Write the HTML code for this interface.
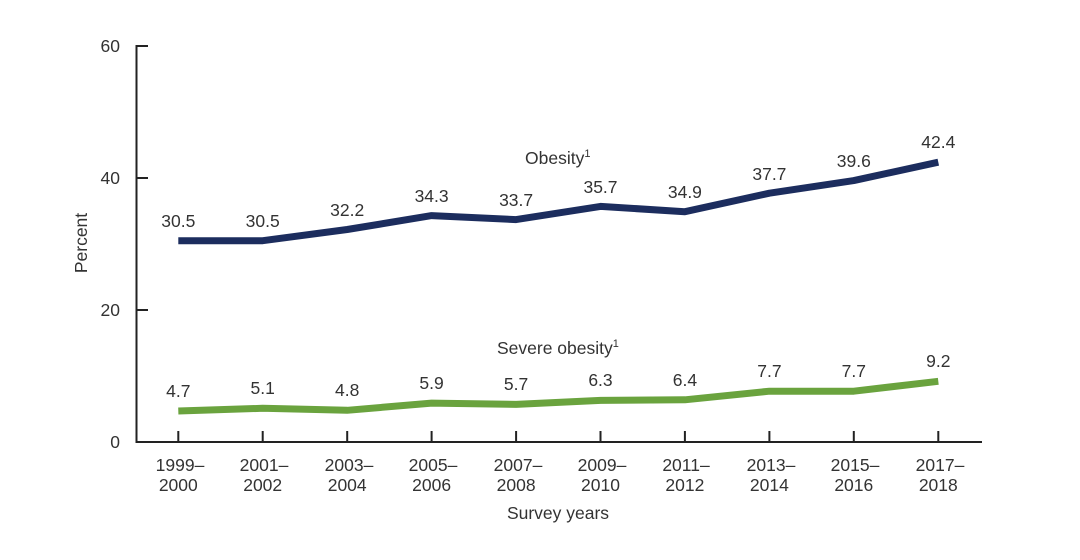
<!DOCTYPE html>
<html>
<head>
<meta charset="utf-8">
<style>
html,body{margin:0;padding:0;background:#fff;}
svg{display:block;}
text{font-family:"Liberation Sans",Arial,sans-serif;fill:#333;}
</style>
</head>
<body>
<svg width="1080" height="560" viewBox="0 0 1080 560" xmlns="http://www.w3.org/2000/svg">
<rect width="1080" height="560" fill="#fff"/>
<!-- axes -->
<line x1="136.5" y1="45" x2="136.5" y2="443" stroke="#222" stroke-width="2"/>
<line x1="135.5" y1="442" x2="982" y2="442" stroke="#222" stroke-width="2"/>
<!-- y ticks -->
<g stroke="#222" stroke-width="2">
<line x1="136" y1="46" x2="148" y2="46"/>
<line x1="136" y1="178" x2="148" y2="178"/>
<line x1="136" y1="310" x2="148" y2="310"/>
</g>
<g font-size="17.5" text-anchor="end">
<text x="120" y="52">60</text>
<text x="120" y="184">40</text>
<text x="120" y="316">20</text>
<text x="120" y="448">0</text>
</g>
<!-- x ticks -->
<g stroke="#222" stroke-width="2">
<line x1="178.3" y1="431" x2="178.3" y2="442"/>
<line x1="262.7" y1="431" x2="262.7" y2="442"/>
<line x1="347.2" y1="431" x2="347.2" y2="442"/>
<line x1="431.6" y1="431" x2="431.6" y2="442"/>
<line x1="516.1" y1="431" x2="516.1" y2="442"/>
<line x1="600.5" y1="431" x2="600.5" y2="442"/>
<line x1="684.9" y1="431" x2="684.9" y2="442"/>
<line x1="769.4" y1="431" x2="769.4" y2="442"/>
<line x1="853.8" y1="431" x2="853.8" y2="442"/>
<line x1="938.3" y1="431" x2="938.3" y2="442"/>
</g>
<g font-size="17.5" text-anchor="middle">
<text x="180" y="471">1999–</text><text x="178.3" y="491">2000</text>
<text x="264" y="471">2001–</text><text x="262.7" y="491">2002</text>
<text x="349" y="471">2003–</text><text x="347.2" y="491">2004</text>
<text x="433" y="471">2005–</text><text x="431.6" y="491">2006</text>
<text x="518" y="471">2007–</text><text x="516.1" y="491">2008</text>
<text x="602" y="471">2009–</text><text x="600.5" y="491">2010</text>
<text x="686" y="471">2011–</text><text x="684.9" y="491">2012</text>
<text x="771" y="471">2013–</text><text x="769.4" y="491">2014</text>
<text x="855" y="471">2015–</text><text x="853.8" y="491">2016</text>
<text x="940" y="471">2017–</text><text x="938.3" y="491">2018</text>
</g>
<text x="558" y="519" font-size="17.5" text-anchor="middle">Survey years</text>
<text x="0" y="0" font-size="17.5" text-anchor="middle" transform="translate(87,243) rotate(-90)">Percent</text>
<!-- obesity line -->
<polyline fill="none" stroke="#1c2d5e" stroke-width="7" stroke-linejoin="round"
points="178.3,240.7 262.7,240.7 347.2,229.5 431.6,215.6 516.1,219.6 600.5,206.4 684.9,211.7 769.4,193.2 853.8,180.6 938.3,162.2"/>
<!-- severe obesity line -->
<polyline fill="none" stroke="#6aa33e" stroke-width="7" stroke-linejoin="round"
points="178.3,411.0 262.7,408.3 347.2,410.3 431.6,403.1 516.1,404.4 600.5,400.4 684.9,399.8 769.4,391.2 853.8,391.2 938.3,381.3"/>
<!-- value labels obesity -->
<g font-size="17.5" text-anchor="middle">
<text x="178.3" y="227">30.5</text>
<text x="262.7" y="227">30.5</text>
<text x="347.2" y="216">32.2</text>
<text x="431.6" y="202">34.3</text>
<text x="516.1" y="206">33.7</text>
<text x="600.5" y="193">35.7</text>
<text x="684.9" y="198">34.9</text>
<text x="769.4" y="180">37.7</text>
<text x="853.8" y="167">39.6</text>
<text x="938.3" y="148">42.4</text>
</g>
<!-- value labels severe -->
<g font-size="17.5" text-anchor="middle">
<text x="178.3" y="397">4.7</text>
<text x="262.7" y="394">5.1</text>
<text x="347.2" y="396">4.8</text>
<text x="431.6" y="389">5.9</text>
<text x="516.1" y="390">5.7</text>
<text x="600.5" y="386">6.3</text>
<text x="684.9" y="386">6.4</text>
<text x="769.4" y="377">7.7</text>
<text x="853.8" y="377">7.7</text>
<text x="938.3" y="367">9.2</text>
</g>
<!-- series labels -->
<text x="525" y="164" font-size="17.5">Obesity<tspan font-size="11" dy="-7">1</tspan></text>
<text x="497" y="354" font-size="17.5">Severe obesity<tspan font-size="11" dy="-7">1</tspan></text>
</svg>
</body>
</html>
